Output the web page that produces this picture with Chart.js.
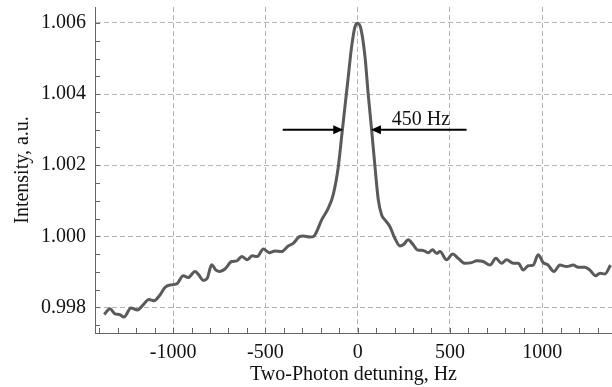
<!DOCTYPE html>
<html>
<head>
<meta charset="utf-8">
<script src="https://cdn.jsdelivr.net/npm/chart.js@4/dist/chart.umd.min.js"></script>
<style>
html,body{margin:0;padding:0;background:#fff;}
#wrap{width:612px;height:387px;position:relative;}
</style>
</head>
<body>
<div id="wrap"><canvas id="twoPhotonChart"></canvas></div>
<script>
// ==========================
// Data
// ==========================

const detuning=[-1373,-1342,-1315,-1291,-1266,-1228,-1192,-1161,-1131,-1103,-1071,-1044,-1017,-981,-945,-918,-881,-863,-836,-815,-791,-768,-746,-719,-683,-655,-628,-598,-571,-544,-511,-479,-448,-412,-376,-349,-316,-295,-258,-240,-225,-195,-159,-132,-105,-87,-69,-51,-33,-15,0,18,40,57,76,94,112,130,148,175,202,229,247,274,301,323,355,382,406,428,446,482,515,545,581,618,645,680,717,749,780,807,843,870,897,924,951,978,1005,1032,1063,1096,1132,1168,1195,1231,1258,1289,1313,1340,1370];

const intensity=[0.99780,0.99796,0.99782,0.99780,0.99773,0.99798,0.99793,0.99808,0.99822,0.99819,0.99835,0.99856,0.99863,0.99866,0.99889,0.99884,0.99901,0.99893,0.99876,0.99882,0.99920,0.99905,0.99901,0.99908,0.99929,0.99931,0.99943,0.99934,0.99945,0.99943,0.99964,0.99954,0.99959,0.99957,0.99973,0.99980,0.99999,1.00001,0.99998,0.99999,1.00010,1.00046,1.00079,1.00118,1.00195,1.00279,1.00364,1.00448,1.00532,1.00588,1.00599,1.00583,1.00504,1.00401,1.00298,1.00195,1.00102,1.00060,1.00046,1.00027,0.99994,0.99973,0.99976,0.99990,0.99976,0.99962,0.99960,0.99954,0.99962,0.99952,0.99957,0.99934,0.99950,0.99938,0.99924,0.99926,0.99931,0.99929,0.99919,0.99938,0.99924,0.99934,0.99924,0.99924,0.99905,0.99917,0.99919,0.99948,0.99926,0.99919,0.99901,0.99919,0.99915,0.99919,0.99913,0.99913,0.99905,0.99889,0.99896,0.99894,0.99919];

const xTicks=[-1000,-500,0,500,1000];
const yTicks=[0.998,1.000,1.002,1.004,1.006];

// width marker: arrows at half maximum
const markerY=1.003;
const leftArrow=[-406,-78];
const rightArrow=[590,72];
const markerText="450 Hz";
const markerTextPos=[343,1.00312];

const serif="'Liberation Serif','Times New Roman',serif";

// ==========================
// Minor ticks + arrows
// ==========================

const extras={
id:"extras",
afterDraw(chart){
const ctx=chart.ctx;
const xs=chart.scales.x, ys=chart.scales.y;
const area=chart.chartArea;
ctx.save();
ctx.strokeStyle="#666";
ctx.lineWidth=1;
ctx.beginPath();
for(let v=-1400;v<=1300;v+=100){
const px=Math.round(xs.getPixelForValue(v))+.5;
ctx.moveTo(px,area.bottom);
ctx.lineTo(px,area.bottom-5);
}
for(let i=0;i<=17;i++){
const v=0.9975+i*0.0005;
const py=Math.round(ys.getPixelForValue(v))+.5;
ctx.moveTo(area.left,py);
ctx.lineTo(area.left+5,py);
}
ctx.stroke();

// arrows
const ay=ys.getPixelForValue(markerY);
[leftArrow,rightArrow].forEach(a=>{
const x0=xs.getPixelForValue(a[0]);
const x1=xs.getPixelForValue(a[1]);
const dir=x1>x0?1:-1;
ctx.strokeStyle="#000";
ctx.fillStyle="#000";
ctx.lineWidth=2;
ctx.beginPath();
ctx.moveTo(x0,ay);
ctx.lineTo(x1-dir*6,ay);
ctx.stroke();
ctx.beginPath();
ctx.moveTo(x1,ay);
ctx.lineTo(x1-dir*10,ay-4.5);
ctx.lineTo(x1-dir*10,ay+4.5);
ctx.closePath();
ctx.fill();
});

ctx.fillStyle="#111";
ctx.font="20px "+serif;
ctx.textAlign="center";
ctx.textBaseline="alphabetic";
ctx.fillText(markerText,xs.getPixelForValue(markerTextPos[0]),ys.getPixelForValue(markerTextPos[1]));
ctx.restore();
}
};

// ==========================
// Chart
// ==========================

const ctxEl=document.getElementById("twoPhotonChart");

new Chart(ctxEl,{

type:"line",

data:{
datasets:[{
label:"Intensity",
data:detuning.map((d,i)=>({x:d,y:intensity[i]})),
borderColor:"#5a5a5a",
borderWidth:3,
pointRadius:0,
fill:false,
tension:.4,
cubicInterpolationMode:"monotone"
}]
},

options:{
responsive:true,
maintainAspectRatio:false,
animation:false,
layout:{padding:{top:7,right:0,left:0,bottom:0}},
plugins:{
legend:{display:false},
tooltip:{enabled:false}
},
scales:{
x:{
type:"linear",
min:-1423,
max:1378,
afterBuildTicks:s=>{s.ticks=xTicks.map(v=>({value:v}));},
afterFit:s=>{s.height=54;s.paddingLeft=0;s.paddingRight=0;},
ticks:{
color:"#111",
font:{family:serif,size:20},
padding:8,
maxRotation:0,
autoSkip:false,
callback:v=>String(v)
},
grid:{color:"#b4b4b4",lineWidth:1,drawTicks:false},
border:{color:"#666",width:1,dash:[5,3]},
title:{
display:true,
text:"Two-Photon detuning, Hz",
color:"#111",
font:{family:serif,size:20},
padding:{top:2,bottom:0}
}
},
y:{
min:0.99728,
max:1.00645,
afterBuildTicks:s=>{s.ticks=yTicks.map(v=>({value:v}));},
afterFit:s=>{s.width=95;s.paddingTop=0;s.paddingBottom=0;},
ticks:{
color:"#111",
font:{family:serif,size:20},
padding:9,
callback:v=>v.toFixed(3)
},
grid:{color:"#b4b4b4",lineWidth:1,drawTicks:false},
border:{color:"#666",width:1,dash:[5,3]},
title:{
display:true,
text:"Intensity, a.u.",
color:"#111",
font:{family:serif,size:20},
padding:{top:11,bottom:0}
}
}
}
},

plugins:[extras]

});
</script>
</body>
</html>
